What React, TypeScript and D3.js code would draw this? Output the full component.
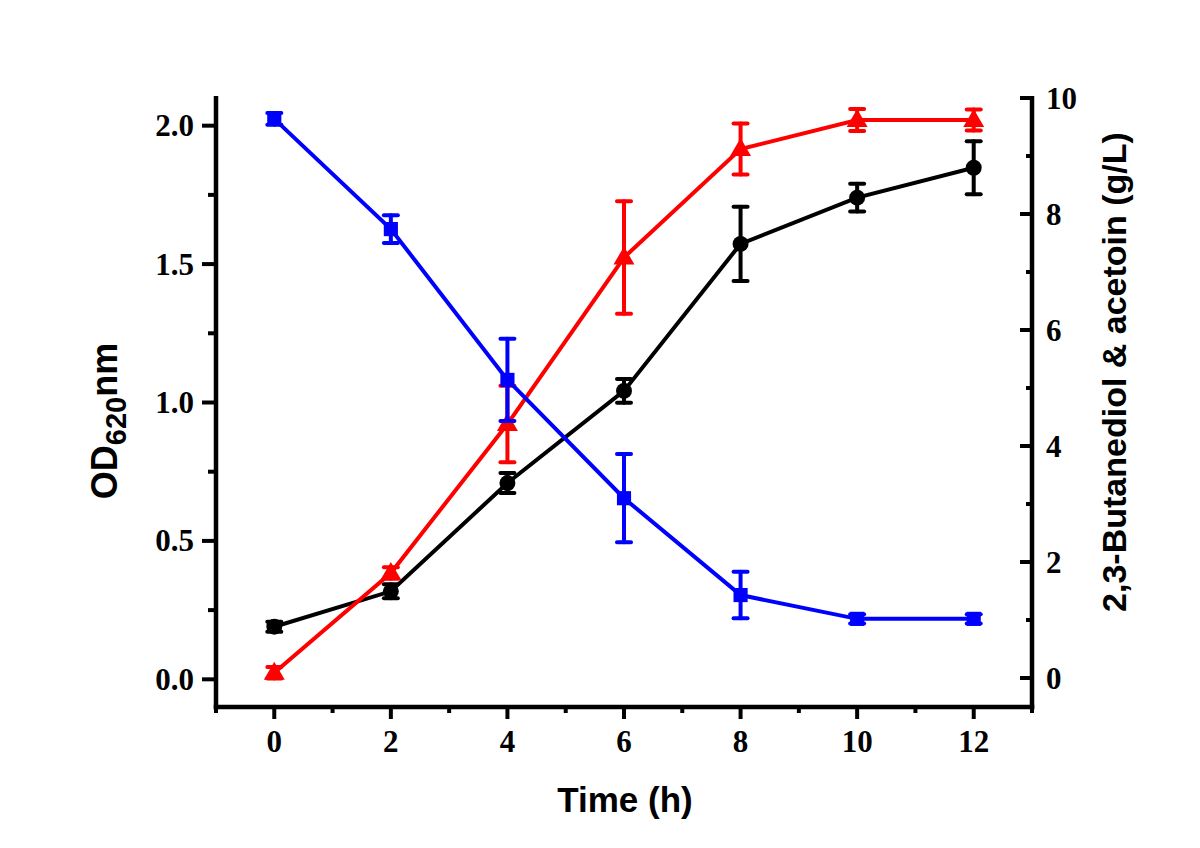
import React, { useEffect, useRef } from "react";
import * as d3 from "d3";

const times = [0, 2, 4, 6, 8, 10, 12];
const odValues = [0.19, 0.318, 0.709, 1.042, 1.573, 1.74, 1.848];
const odErrors = [0.018, 0.025, 0.036, 0.043, 0.134, 0.05, 0.096];
const bdValues = [0.09, 1.81, 4.38, 7.25, 9.12, 9.62, 9.62];
const bdErrors = [0.1, 0.1, 0.66, 0.97, 0.44, 0.19, 0.18];
const blueValues = [9.64, 7.74, 5.14, 3.1, 1.43, 1.02, 1.02];
const blueErrors = [0.1, 0.24, 0.71, 0.76, 0.4, 0.08, 0.08];
const xTicks = [0, 2, 4, 6, 8, 10, 12];
const leftTicks = [0, 0.5, 1.0, 1.5, 2.0];
const rightTicks = [0, 2, 4, 6, 8, 10];

export default function App() {
  const ref = useRef<SVGSVGElement>(null);
  useEffect(() => {
    const svg = d3.select(ref.current);
    svg.selectAll("*").remove();
    const x = d3.scaleLinear().domain([-1, 13]).range([216, 1032]);
    const yL = d3.scaleLinear().domain([-0.1, 2.1]).range([707, 98]);
    const yR = d3.scaleLinear().domain([-0.5, 10]).range([707, 98]);
    const tickFont = "'Liberation Serif', 'Times New Roman', serif";
    const titleFont = "'Liberation Sans', Arial, sans-serif";
    const tickSize = 31;

    const ax = svg.append("g").attr("stroke", "#000").attr("stroke-width", 4.5);
    ax.append("line").attr("x1", 216).attr("x2", 216).attr("y1", 96).attr("y2", 709.25);
    ax.append("line").attr("x1", 1032).attr("x2", 1032).attr("y1", 96).attr("y2", 709.25);
    ax.append("line").attr("x1", 213.75).attr("x2", 1034.25).attr("y1", 707).attr("y2", 707);

    const tk = svg.append("g").attr("stroke", "#000").attr("stroke-width", 4);
    d3.range(-1, 14, 1).forEach((v) => {
      const major = v % 2 === 0;
      tk.append("line")
        .attr("x1", x(v)).attr("x2", x(v))
        .attr("y1", 707).attr("y2", 707 + (major ? 12 : 6));
    });
    xTicks.forEach((v) => {
      svg.append("text").attr("x", x(v)).attr("y", 752)
        .attr("text-anchor", "middle").attr("font-family", tickFont)
        .attr("font-weight", "bold").attr("font-size", tickSize).text(String(v));
    });
    d3.range(0, 2.01, 0.25).forEach((v) => {
      const major = Math.abs(v * 2 - Math.round(v * 2)) < 1e-6;
      tk.append("line")
        .attr("x1", 216 - (major ? 14 : 8)).attr("x2", 216)
        .attr("y1", yL(v)).attr("y2", yL(v));
    });
    leftTicks.forEach((v) => {
      svg.append("text").attr("x", 194).attr("y", yL(v) + 10.5)
        .attr("text-anchor", "end").attr("font-family", tickFont)
        .attr("font-weight", "bold").attr("font-size", tickSize).text(v.toFixed(1));
    });
    d3.range(0, 10.01, 1).forEach((v) => {
      const major = v % 2 === 0;
      tk.append("line")
        .attr("x1", 1032 - (major ? 12 : 6)).attr("x2", 1032)
        .attr("y1", yR(v)).attr("y2", yR(v));
    });
    rightTicks.forEach((v) => {
      svg.append("text").attr("x", 1046).attr("y", yR(v) + 10.5)
        .attr("text-anchor", "start").attr("font-family", tickFont)
        .attr("font-weight", "bold").attr("font-size", tickSize).text(String(v));
    });

    svg.append("text").attr("x", 625).attr("y", 812)
      .attr("text-anchor", "middle").attr("font-family", titleFont)
      .attr("font-weight", "bold").attr("font-size", 35).text("Time (h)");
    const lt = svg.append("text")
      .attr("transform", "translate(117,421) rotate(-90)")
      .attr("text-anchor", "middle").attr("font-family", titleFont)
      .attr("font-weight", "bold").attr("font-size", 36);
    lt.append("tspan").text("OD");
    lt.append("tspan").attr("font-size", 29).attr("dy", 9).text("620");
    lt.append("tspan").attr("dy", -9).text("nm");
    svg.append("text")
      .attr("transform", "translate(1126,372) rotate(-90)")
      .attr("text-anchor", "middle").attr("font-family", titleFont)
      .attr("font-weight", "bold").attr("font-size", 34)
      .text("2,3-Butanediol & acetoin (g/L)");

    const series = [
      { vals: odValues, errs: odErrors, y: yL, color: "#000000", shape: "circle" },
      { vals: bdValues, errs: bdErrors, y: yR, color: "#ff0000", shape: "triangle" },
      { vals: blueValues, errs: blueErrors, y: yR, color: "#0000ff", shape: "square" },
    ];
    series.forEach((s) => {
      const g = svg.append("g");
      const line = d3.line<number>().x((_, i) => x(times[i])).y((d) => s.y(d));
      g.append("path").attr("d", line(s.vals)).attr("fill", "none")
        .attr("stroke", s.color).attr("stroke-width", 4);
      s.vals.forEach((v, i) => {
        const cx = x(times[i]);
        const top = s.y(v + s.errs[i]);
        const bot = s.y(v - s.errs[i]);
        const eg = g.append("g").attr("stroke", s.color).attr("stroke-width", 4)
          .attr("stroke-linecap", "round");
        eg.append("line").attr("x1", cx).attr("x2", cx).attr("y1", top).attr("y2", bot);
        eg.append("line").attr("x1", cx - 7).attr("x2", cx + 7).attr("y1", top).attr("y2", top);
        eg.append("line").attr("x1", cx - 7).attr("x2", cx + 7).attr("y1", bot).attr("y2", bot);
        const cy = s.y(v);
        const symType = s.shape === "circle" ? d3.symbolCircle : s.shape === "triangle" ? d3.symbolTriangle : d3.symbolSquare;
        const size = s.shape === "circle" ? 200 : s.shape === "triangle" ? 190 : 200;
        g.append("path").attr("d", d3.symbol().type(symType).size(size)())
          .attr("transform", `translate(${cx},${cy + (s.shape === "triangle" ? 1 : 0)})`)
          .attr("fill", s.color);
      });
    });
  }, []);
  return (
    <svg ref={ref} width={1200} height={848}
      style={{ position: "absolute", left: 0, top: 0, background: "#fff" }} />
  );
}
